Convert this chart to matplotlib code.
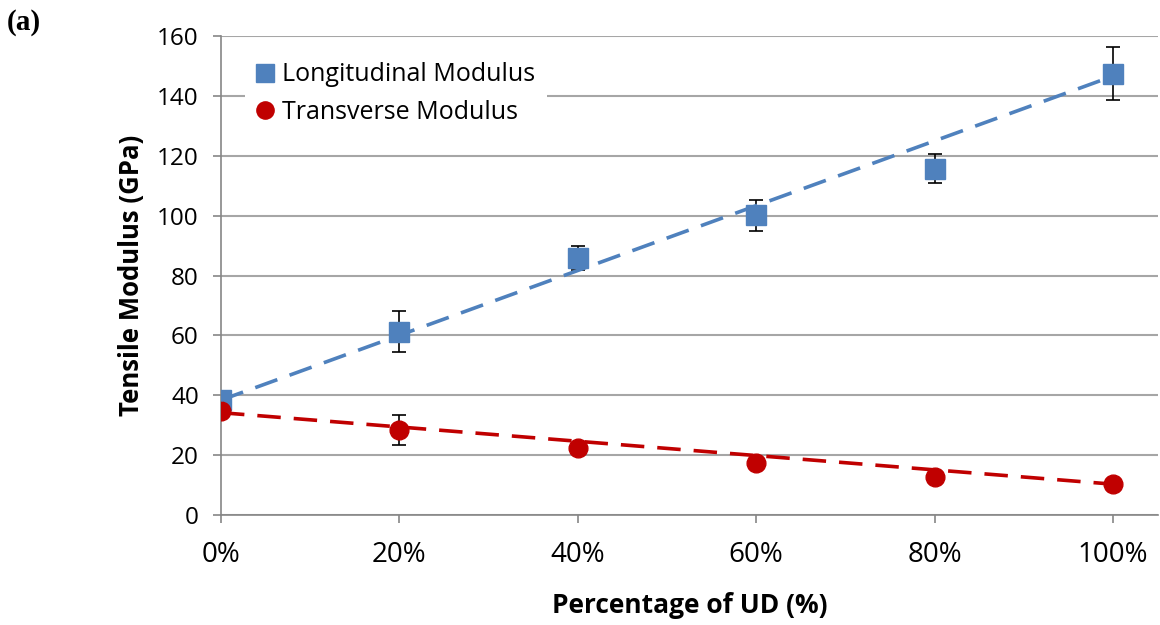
import numpy as np
import matplotlib
matplotlib.use('Agg')
import matplotlib.pyplot as plt
from matplotlib.ticker import FuncFormatter

plt.rcParams['font.family'] = ['Open Sans', 'DejaVu Sans']

# UD content (%) and measured tensile moduli (GPa)
ud_pct = [0, 20, 40, 60, 80, 100]
long_mod = [38.5, 61.3, 85.9, 100.1, 115.8, 147.5]
long_err = [1.5, 6.8, 3.9, 5.3, 4.7, 8.9]
trans_mod = [34.8, 28.4, 22.3, 17.3, 12.8, 10.3]
trans_err = [1.0, 5.1, 1.0, 1.0, 1.0, 1.0]

# linear trend lines, value at 0% and 100%
trend_x = [0, 100]
long_trend = [38.4, 146.7]
trans_trend = [34.2, 10.3]

blue = '#4F81BD'
red = '#C00000'
grid_c = '#A6A6A6'

fig = plt.figure(figsize=(11.6, 6.25), dpi=100)
ax = fig.add_axes([0.1905, 0.176, 0.8075, 0.766])

ax.errorbar(ud_pct, long_mod, yerr=long_err, fmt='none', ecolor='black',
            elinewidth=1.2, capsize=5, capthick=1.2, zorder=3)
ax.errorbar(ud_pct, trans_mod, yerr=trans_err, fmt='none', ecolor='black',
            elinewidth=1.2, capsize=5, capthick=1.2, zorder=3)

l1, = ax.plot(ud_pct, long_mod, ls='none', marker='s', ms=14, color=blue,
              mec=blue, zorder=4, label='Longitudinal Modulus')
l2, = ax.plot(ud_pct, trans_mod, ls='none', marker='o', ms=13.5, color=red,
              mec=red, zorder=4, label='Transverse Modulus')

ax.plot(trend_x, long_trend, color=blue, lw=2.6, ls=(0, (6.5, 3.6)), zorder=5)
ax.plot(trend_x, trans_trend, color=red, lw=2.6, ls=(0, (6.5, 3.6)), zorder=5)

ax.set_xlim(0, 105)
ax.set_ylim(0, 160)
ax.set_xticks(ud_pct)
ax.set_yticks(np.arange(0, 161, 20))
ax.xaxis.set_major_formatter(FuncFormatter(lambda v, p: '%d%%' % v))
ax.yaxis.grid(True, color=grid_c, lw=1.5, zorder=0)
ax.set_axisbelow(True)

for s in ['top', 'right']:
    ax.spines[s].set_visible(False)
for s in ['left', 'bottom']:
    ax.spines[s].set_color('#868686')
    ax.spines[s].set_linewidth(1.2)

ax.tick_params(axis='y', length=6, width=1.2, color='#868686', pad=10, labelsize=17.5)
ax.tick_params(axis='x', length=6, width=1.2, color='#868686', pad=13, labelsize=20)

ax.set_xlabel('Percentage of UD (%)', fontsize=19, fontweight='bold', labelpad=16)
ax.set_ylabel('Tensile Modulus (GPa)', fontsize=18.5, fontweight='bold', labelpad=9)

leg = ax.legend(handles=[l1, l2], loc='upper left', bbox_to_anchor=(0.012, 0.995),
                fontsize=18, frameon=True, framealpha=1, edgecolor='none',
                handlelength=0.7, handletextpad=0.35, borderpad=0.45,
                labelspacing=0.5, fancybox=False, markerscale=0.92)
leg.get_frame().set_linewidth(0)

fig.text(0.006, 0.985, '(a)', fontsize=21, fontweight='bold',
         family=['Liberation Serif', 'DejaVu Serif'], va='top', ha='left')

fig.savefig('out.png', dpi=100)
